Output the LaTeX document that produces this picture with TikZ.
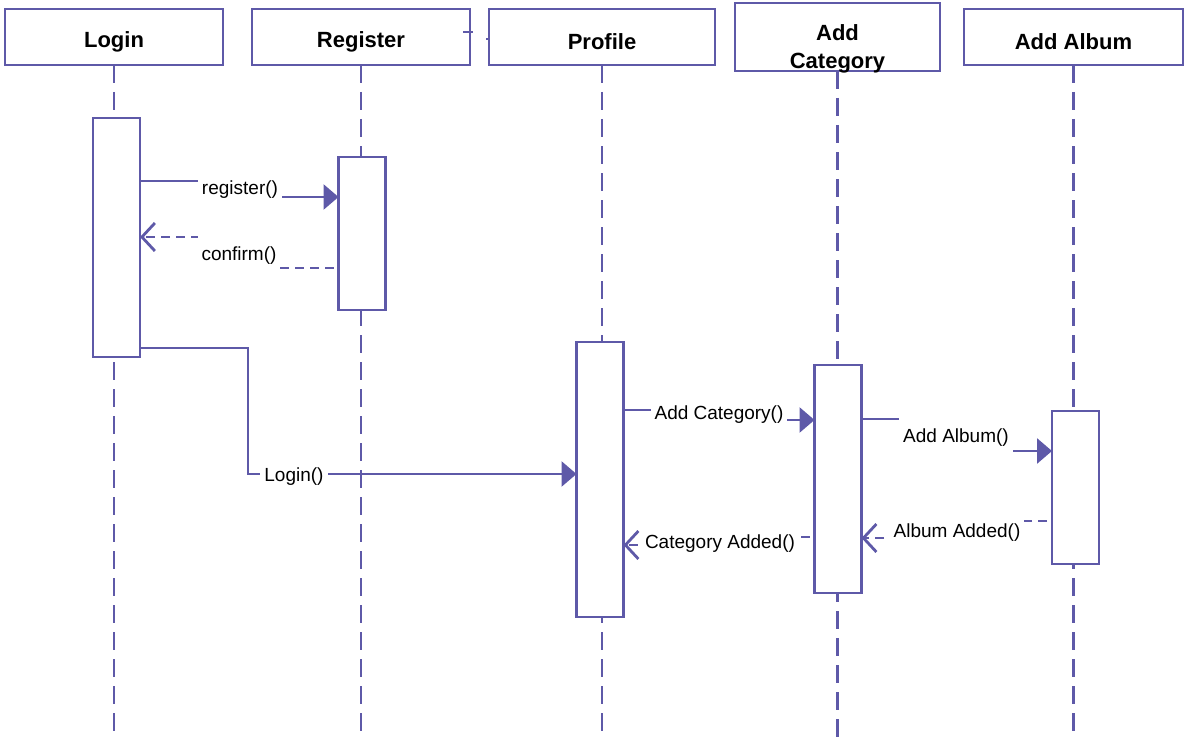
\documentclass[tikz,border=0pt]{standalone}
\usepackage{fontspec}
\setmainfont{Liberation Sans}
\usetikzlibrary{arrows.meta}
\definecolor{umlblue}{RGB}{94,89,168}

\begin{document}
\begin{tikzpicture}[x=1pt,y=-1pt,
  every node/.style={outer sep=0pt},
  hdr/.style={draw=umlblue, line width=2.8pt, fill=white, minimum height=56pt, inner sep=0pt},
  hdrtext/.style={align=center, inner sep=0pt, font=\fontsize{22}{28}\selectfont\bfseries},
  act/.style={draw=umlblue, line width=2.8pt, fill=white, minimum width=47pt, inner sep=0pt},
  lifeline/.style={draw=umlblue, line width=2.8pt, dash pattern=on 18pt off 9pt},
  call/.style={draw=umlblue, line width=2.8pt, -{Triangle[length=15pt,width=25pt]}},
  reply/.style={draw=umlblue, line width=2.8pt, dash pattern=on 9pt off 6pt, dash phase=10pt,
    -{Straight Barb[length=13pt,width=28pt]}},
  tick/.style={draw=umlblue, line width=2.8pt},
  msglabel/.style={fill=white, inner xsep=4pt, inner ysep=0pt, minimum height=24pt,
    yshift=-3pt, font=\fontsize{19}{22}\selectfont}
]
\useasboundingbox (0,0) rectangle (1185,749);

% object headers
\node[hdr, minimum width=218pt] (hl) at (114,37) {};
\node[hdr, minimum width=218pt] (hr) at (361,37) {};
\node[hdr, minimum width=226pt] (hp) at (602,37) {};
\node[hdr, minimum width=205pt, minimum height=68pt] (hc) at (837.5,37) {};
\node[hdr, minimum width=219pt] (ha) at (1073.5,37) {};
\node[hdrtext] (hlt) at ([yshift=-5pt]hl.center) {Login};
\node[hdrtext] (hrt) at ([yshift=-5pt]hr.center) {Register};
\node[hdrtext] (hpt) at ([yshift=-5pt]hp.center) {Profile};
\node[hdrtext] (hct) at ([yshift=-12pt]hc.center) {Add\\Category};
\node[hdrtext] (hat) at ([yshift=-5pt]ha.center) {Add Album};

% small marks between Register and Profile
\draw[tick] ([xshift=-7pt,yshift=5pt]hr.east) -- ++(10,0);
\draw[tick] ([xshift=-3pt,yshift=-2pt]hp.west) -- ([yshift=-2pt]hp.west);

% lifeline ends
\coordinate (el) at (114,732);
\coordinate (er) at (361,732);
\coordinate (ep) at (602,735);
\coordinate (ec) at (837.5,745);
\coordinate (ea) at (1073.5,738);

% lifelines
\draw[lifeline] (hl.south) -- (el);
\draw[lifeline] (hr.south) -- (er);
\draw[lifeline] (hp.south) -- (ep);
\draw[lifeline] (hc.south) -- (ec);
\draw[lifeline] (ha.south) -- (ea);

% activation bars
\node[act, minimum height=239pt] (la) at (116.5,237.5) {};
\node[act, minimum height=153pt] (ra) at (362,233.5) {};
\node[act, minimum height=275pt] (pa) at (600,479.5) {};
\node[act, minimum height=228pt] (ca) at (838,479) {};
\node[act, minimum height=153pt] (aa) at (1075.5,487.5) {};

% bend points of the messages (label centres)
\coordinate (j1) at (240,187);
\coordinate (j2) at (239,252.5);
\coordinate (j3) at (248,474);
\coordinate (l3) at (294,474);
\coordinate (j4) at (719,412);
\coordinate (j5) at (956,435);
\coordinate (j6) at (957,529.5);
\coordinate (j7) at (720,541);

% messages
\draw[call]  ([yshift=-63pt]la.north east) -| (j1) |- ([yshift=-40pt]ra.north west);
\draw[reply] ([yshift=-111pt]ra.north west) -| (j2) |- ([yshift=-119pt]la.north east);
\draw[call]  ([yshift=-230pt]la.north east) -| (j3) -- ([yshift=-132pt]pa.north west);
\draw[call]  ([yshift=-68pt]pa.north east) -| (j4) |- ([yshift=-55pt]ca.north west);
\draw[call]  ([yshift=-54pt]ca.north east) -| (j5) |- ([yshift=-40pt]aa.north west);
\draw[reply] ([yshift=-110pt]aa.north west) -| (j6) |- ([yshift=-173pt]ca.north east);
\draw[reply] ([yshift=-172pt]ca.north west) -| (j7) |- ([yshift=-203pt]pa.north east);

% message labels
\node[msglabel] (t1) at (j1) {register()};
\node[msglabel, minimum height=40pt] (t2) at (j2) {confirm()};
\node[msglabel] (t3) at (l3) {Login()};
\node[msglabel] (t4) at (j4) {Add Category()};
\node[msglabel, minimum height=42pt] (t5) at (j5) {Add Album()};
\node[msglabel, minimum height=30pt] (t6) at (j6) {Album Added()};
\node[msglabel] (t7) at (j7) {Category Added()};
\end{tikzpicture}
\end{document}
